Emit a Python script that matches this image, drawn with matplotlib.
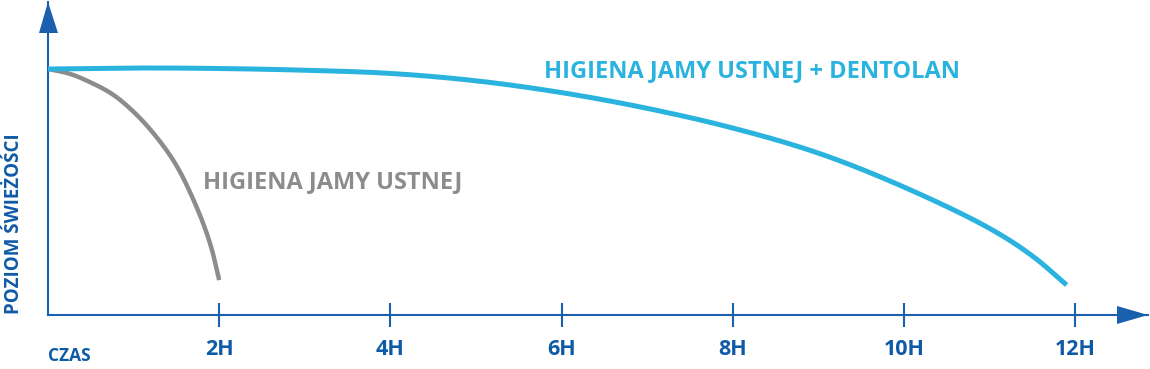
import numpy as np
import matplotlib
matplotlib.use("Agg")
import matplotlib.pyplot as plt
from matplotlib.patches import Polygon

# ---- data ----
tick_hours = [2, 4, 6, 8, 10, 12]
tick_labels = ["2H", "4H", "6H", "8H", "10H", "12H"]

blue_hours = [0, 1, 2, 3, 4, 5, 6, 7, 8, 9, 10, 11, 11.5, 11.9]
blue_fresh = [100, 100.4, 100.2, 99.5, 98.2, 95.2, 90.4, 84, 76, 65.8, 52, 35.2, 24.0, 12.2]

gray_hours = [0, 0.25, 0.5, 0.75, 1.0, 1.25, 1.5, 1.75, 1.9, 2.0]
gray_fresh = [100, 98.1, 94.5, 89.8, 82.6, 73.1, 60.8, 42.7, 28.3, 14.2]

blue_label = "HIGIENA JAMY USTNEJ + DENTOLAN"
gray_label = "HIGIENA JAMY USTNEJ"
x_title = "CZAS"
y_title = "POZIOM ŚWIEŻOŚCI"

# ---- style ----
BLUE = "#2AB3DF"
GRAY = "#8C8C8C"
DARK = "#0F5AA6"
AXIS = "#1B60AE"
FONT = ["Open Sans", "DejaVu Sans"]

W, H = 1150, 369
fig = plt.figure(figsize=(W / 100, H / 100), dpi=100)
fig.patch.set_facecolor("white")


def fx(px):
    return px / W


def fy(py):
    return 1 - py / H


# axes: origin at pixel (48, 315), right end 1148, top 2
x0, y0, x1, y1 = 48, 315, 1148, 2
ax = fig.add_axes([fx(x0), fy(y0), fx(x1) - fx(x0), fy(y1) - fy(y0)])
px_per_hour = 85.6
px_per_unit = 2.46
ax.set_xlim(0, (x1 - x0) / px_per_hour)
ax.set_ylim(0, (y0 - y1) / px_per_unit)
ax.set_facecolor("none")
for s in ["top", "right"]:
    ax.spines[s].set_visible(False)
for s in ["left", "bottom"]:
    ax.spines[s].set_color(AXIS)
    ax.spines[s].set_linewidth(1.5)
ax.set_yticks([])
ax.set_xticks(tick_hours)
ax.set_xticklabels(tick_labels, fontfamily=FONT, fontweight="bold",
                   fontsize=15.5, color=DARK)
ax.tick_params(axis="x", direction="inout", length=17, width=1.5,
               color=AXIS, pad=9)


def smooth(xs, ys, n=40):
    """Centripetal Catmull-Rom curve through the given points (rendering only)."""
    P = np.column_stack([np.asarray(xs, float) * px_per_hour,
                         np.asarray(ys, float) * px_per_unit])
    P = np.vstack([2 * P[0] - P[1], P, 2 * P[-1] - P[-2]])
    out = []
    for i in range(1, len(P) - 2):
        p0, p1, p2, p3 = P[i - 1], P[i], P[i + 1], P[i + 2]
        t0 = 0.0
        t1 = t0 + np.linalg.norm(p1 - p0) ** 0.5
        t2 = t1 + np.linalg.norm(p2 - p1) ** 0.5
        t3 = t2 + np.linalg.norm(p3 - p2) ** 0.5
        t = np.linspace(t1, t2, n, endpoint=False)[:, None]
        a1 = (t1 - t) / (t1 - t0) * p0 + (t - t0) / (t1 - t0) * p1
        a2 = (t2 - t) / (t2 - t1) * p1 + (t - t1) / (t2 - t1) * p2
        a3 = (t3 - t) / (t3 - t2) * p2 + (t - t2) / (t3 - t2) * p3
        b1 = (t2 - t) / (t2 - t0) * a1 + (t - t0) / (t2 - t0) * a2
        b2 = (t3 - t) / (t3 - t1) * a2 + (t - t1) / (t3 - t1) * a3
        c = (t2 - t) / (t2 - t1) * b1 + (t - t1) / (t2 - t1) * b2
        out.append(c)
    out.append(P[-2][None, :])
    out = np.vstack(out)
    return out[:, 0] / px_per_hour, out[:, 1] / px_per_unit


bx, by = smooth(blue_hours, blue_fresh)
gx, gy = smooth(gray_hours, gray_fresh)
ax.plot(gx, gy, color=GRAY, lw=3.2, solid_capstyle="butt", zorder=3)
ax.plot(bx, by, color=BLUE, lw=3.6, solid_capstyle="butt", zorder=4)

# arrow heads
fig.patches.append(Polygon([(fx(1117), fy(306)), (fx(1148), fy(315)), (fx(1117), fy(324))],
                           closed=True, transform=fig.transFigure, color=AXIS, lw=0))
fig.patches.append(Polygon([(fx(39), fy(33)), (fx(48), fy(2)), (fx(58), fy(33))],
                           closed=True, transform=fig.transFigure, color=AXIS, lw=0))

# texts
fig.text(fx(48), fy(361), x_title, fontfamily=FONT, fontweight="bold",
         fontsize=12.5, color=DARK, ha="left", va="baseline")
fig.text(fx(19), fy(314), y_title, fontfamily=FONT, fontweight="bold",
         fontsize=13.5, color=DARK, ha="left", va="baseline", rotation=90,
         rotation_mode="anchor")
fig.text(fx(544), fy(77), blue_label, fontfamily=FONT, fontweight="bold",
         fontsize=17, color=BLUE, ha="left", va="baseline")
fig.text(fx(203), fy(188), gray_label, fontfamily=FONT, fontweight="bold",
         fontsize=17, color=GRAY, ha="left", va="baseline")

fig.savefig("out.png", dpi=100, facecolor="white")
